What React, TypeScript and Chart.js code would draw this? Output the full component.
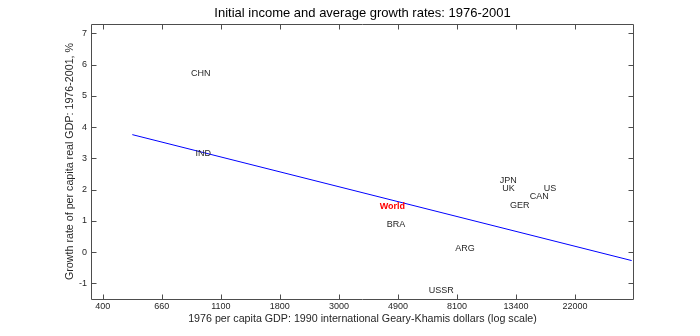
import React, { useEffect, useRef } from "react";
import { Chart, registerables } from "chart.js";

Chart.register(...registerables);

// ---- data ----
const countries = ["CHN", "IND", "World", "BRA", "USSR", "ARG", "JPN", "UK", "US", "CAN", "GER"];
const gdp1976 = [852, 885, 4210, 4470, 6380, 7990, 11640, 11900, 16900, 15000, 12700];
const growth = [5.73, 3.15, 1.47, 0.89, -1.22, 0.1, 2.29, 2.05, 2.02, 1.79, 1.48];

const fitGdp = [518, 35600];
const fitGrowth = [3.76, -0.27];

const xTickValues = [403.43, 665.14, 1096.63, 1808.04, 2980.96, 4914.77, 8103.08, 13359.73, 22026.47];
const xTickLabels = ["400", "660", "1100", "1800", "3000", "4900", "8100", "13400", "22000"];
const yTickValues = [-1, 0, 1, 2, 3, 4, 5, 6, 7];

const xMin = 365.04;
const xMax = 36315.5;
const yMin = -1.5;
const yMax = 7.3;

const FONT = "'Liberation Sans', Arial, Helvetica, sans-serif";
const AXIS_COLOR = "#4d4d4d";
const TEXT_COLOR = "#262626";

const framePlugin = {
  id: "frame",
  afterDatasetsDraw(chart: any) {
    const { ctx, chartArea, scales } = chart;
    const { left, right, top, bottom } = chartArea;
    const xs = scales.x;
    const ys = scales.y;
    ctx.save();
    ctx.strokeStyle = AXIS_COLOR;
    ctx.lineWidth = 1;
    const L = Math.round(left) + 0.5;
    const R = Math.round(right) - 0.5;
    const T = Math.round(top) + 0.5;
    const B = Math.round(bottom) + 0.5;
    ctx.beginPath();
    ctx.rect(L, T, R - L, B - T);
    ctx.stroke();
    const tl = 5;
    ctx.beginPath();
    xTickValues.forEach((v) => {
      const px = Math.round(xs.getPixelForValue(v)) + 0.5;
      ctx.moveTo(px, B);
      ctx.lineTo(px, B - tl);
      ctx.moveTo(px, T);
      ctx.lineTo(px, T + tl);
    });
    yTickValues.forEach((v) => {
      const py = Math.round(ys.getPixelForValue(v)) + 0.5;
      ctx.moveTo(L, py);
      ctx.lineTo(L + tl, py);
      ctx.moveTo(R, py);
      ctx.lineTo(R - tl, py);
    });
    ctx.stroke();

    // country labels
    const meta = chart.getDatasetMeta(1);
    ctx.textAlign = "left";
    ctx.textBaseline = "middle";
    meta.data.forEach((el: any, i: number) => {
      const name = countries[i];
      if (name === "World") {
        ctx.fillStyle = "#ff0000";
        ctx.font = `bold 9px ${FONT}`;
      } else {
        ctx.fillStyle = TEXT_COLOR;
        ctx.font = `9px ${FONT}`;
      }
      ctx.fillText(name, el.x, el.y);
    });
    ctx.restore();
  },
};

export default function App() {
  const canvasRef = useRef<HTMLCanvasElement | null>(null);

  useEffect(() => {
    if (!canvasRef.current) return;
    Chart.defaults.font.family = FONT;
    const chart = new Chart(canvasRef.current, {
      type: "scatter",
      data: {
        datasets: [
          {
            label: "fit",
            data: fitGdp.map((g, i) => ({ x: g, y: fitGrowth[i] })),
            showLine: true,
            borderColor: "#0000ff",
            borderWidth: 1,
            pointRadius: 0,
            pointHoverRadius: 0,
          },
          {
            label: "countries",
            data: gdp1976.map((g, i) => ({ x: g, y: growth[i] })),
            showLine: false,
            pointRadius: 0,
            pointHoverRadius: 0,
          },
        ],
      },
      options: {
        animation: false,
        responsive: true,
        maintainAspectRatio: false,
        events: [],
        layout: { padding: { left: 0, right: 66, top: 0, bottom: 0 } },
        plugins: {
          legend: { display: false },
          tooltip: { enabled: false },
          title: {
            display: true,
            fullSize: false,
            text: "Initial income and average growth rates: 1976-2001",
            color: "#000000",
            font: { size: 13, weight: "normal", family: FONT },
            padding: { top: 5.2, bottom: 3.2 },
          },
        },
        scales: {
          x: {
            type: "logarithmic",
            min: xMin,
            max: xMax,
            grid: { display: false, drawTicks: false },
            border: { display: false },
            afterBuildTicks: (scale: any) => {
              scale.ticks = xTickValues.map((v) => ({ value: v }));
            },
            afterFit: (scale: any) => {
              scale.height = 37;
            },
            ticks: {
              autoSkip: false,
              maxRotation: 0,
              padding: 2,
              color: TEXT_COLOR,
              font: { size: 9, family: FONT },
              callback: (_v: any, i: number) => xTickLabels[i],
            },
            title: {
              display: true,
              text: "1976 per capita GDP: 1990 international Geary-Khamis dollars (log scale)",
              color: TEXT_COLOR,
              font: { size: 10.7, family: FONT },
              padding: { top: 0, bottom: 10.3 },
            },
          },
          y: {
            type: "linear",
            min: yMin,
            max: yMax,
            grid: { display: false, drawTicks: false },
            border: { display: false },
            afterBuildTicks: (scale: any) => {
              scale.ticks = yTickValues.map((v) => ({ value: v }));
            },
            afterFit: (scale: any) => {
              scale.width = 91;
            },
            ticks: {
              autoSkip: false,
              padding: 4,
              color: TEXT_COLOR,
              font: { size: 9, family: FONT },
              callback: (v: any) => String(v),
            },
            title: {
              display: true,
              text: "Growth rate of per capita real GDP: 1976-2001, %",
              color: TEXT_COLOR,
              font: { size: 10.7, family: FONT },
              padding: { top: 63.6, bottom: 0 },
            },
          },
        },
      },
      plugins: [framePlugin],
    });
    return () => chart.destroy();
  }, []);

  return (
    <div style={{ position: "fixed", left: 0, top: 0, width: 700, height: 336, background: "#ffffff" }}>
      <canvas ref={canvasRef} />
    </div>
  );
}
